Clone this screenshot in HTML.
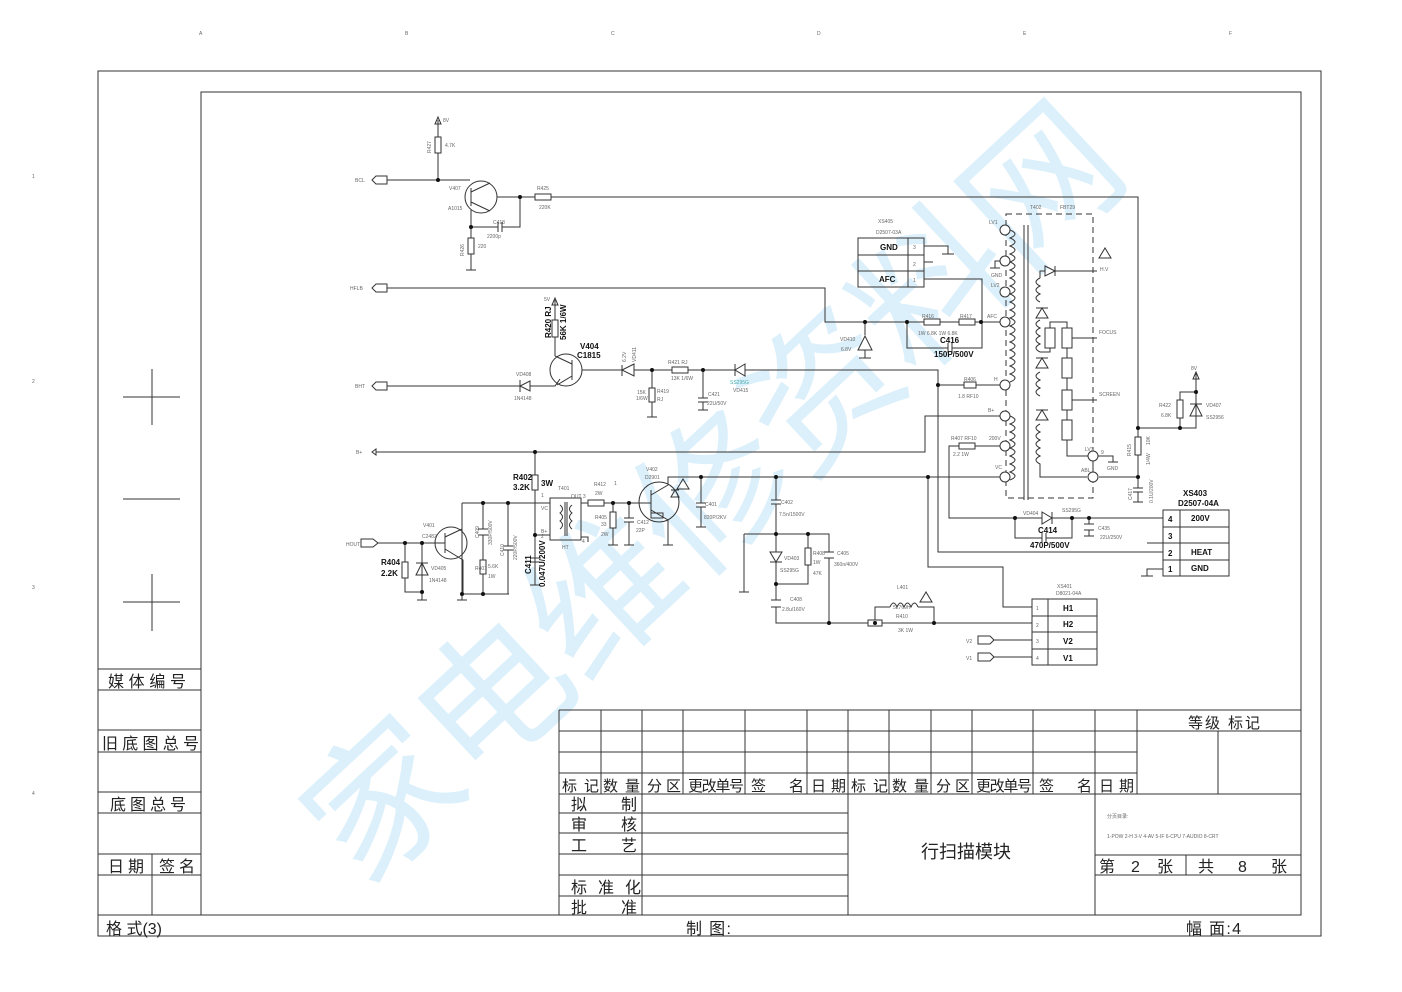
<!DOCTYPE html>
<html><head><meta charset="utf-8">
<style>
html,body{margin:0;padding:0;background:#fff;}
svg{display:block;}
.t{font-family:"Liberation Sans",sans-serif;fill:#666;font-size:5px;}
.b{font-family:"Liberation Sans",sans-serif;fill:#111;font-size:8px;font-weight:bold;}
.c{font-family:"Liberation Sans","Noto Sans CJK SC",sans-serif;fill:#222;font-size:16px;}
</style></head><body>
<svg width="1402" height="992" viewBox="0 0 1402 992" xmlns="http://www.w3.org/2000/svg">
<rect width="1402" height="992" fill="#fff"/>
<text x="715" y="545" text-anchor="middle" transform="rotate(-43 715 495)" font-family="Noto Sans CJK SC,sans-serif" font-size="150" fill="#dcf0fb">家电维修资料网</text>

<g fill="none" stroke="#333" stroke-width="1">
<rect x="98" y="71" width="1223" height="865"/>
<rect x="201" y="92" width="1100" height="823"/>
<line x1="152" y1="369" x2="152" y2="425"/><line x1="123" y1="397" x2="180" y2="397"/>
<line x1="123" y1="499" x2="180" y2="499"/>
<line x1="152" y1="574" x2="152" y2="631"/><line x1="123" y1="602" x2="180" y2="602"/>
<line x1="98" y1="669" x2="201" y2="669"/><line x1="98" y1="690" x2="201" y2="690"/>
<line x1="98" y1="730" x2="201" y2="730"/><line x1="98" y1="752" x2="201" y2="752"/>
<line x1="98" y1="792" x2="201" y2="792"/><line x1="98" y1="813" x2="201" y2="813"/>
<line x1="98" y1="854" x2="201" y2="854"/><line x1="98" y1="875" x2="201" y2="875"/>
<line x1="152" y1="854" x2="152" y2="915"/><line x1="98" y1="915" x2="201" y2="915"/>
<line x1="559" y1="710" x2="1301" y2="710"/>
<line x1="559" y1="710" x2="559" y2="915"/>
<line x1="559" y1="731" x2="1137" y2="731"/><line x1="559" y1="752" x2="1137" y2="752"/>
<line x1="559" y1="773" x2="1137" y2="773"/><line x1="559" y1="794" x2="1301" y2="794"/>
<line x1="1137" y1="731" x2="1301" y2="731"/>
<line x1="601" y1="710" x2="601" y2="794"/><line x1="642" y1="710" x2="642" y2="915"/>
<line x1="683" y1="710" x2="683" y2="794"/><line x1="745" y1="710" x2="745" y2="794"/>
<line x1="807" y1="710" x2="807" y2="794"/><line x1="848" y1="710" x2="848" y2="915"/>
<line x1="889" y1="710" x2="889" y2="794"/><line x1="931" y1="710" x2="931" y2="794"/>
<line x1="972" y1="710" x2="972" y2="794"/><line x1="1033" y1="710" x2="1033" y2="794"/>
<line x1="1095" y1="710" x2="1095" y2="915"/><line x1="1137" y1="710" x2="1137" y2="794"/>
<line x1="1218" y1="731" x2="1218" y2="794"/>
<line x1="559" y1="813" x2="848" y2="813"/><line x1="559" y1="833" x2="848" y2="833"/>
<line x1="559" y1="854" x2="848" y2="854"/><line x1="559" y1="875" x2="848" y2="875"/>
<line x1="559" y1="896" x2="848" y2="896"/>
<line x1="1095" y1="855" x2="1301" y2="855"/><line x1="1095" y1="875" x2="1301" y2="875"/>
<line x1="1186" y1="855" x2="1186" y2="875"/>
</g>
<g class="c">
<text x="108" y="687" textLength="78">媒 体 编 号</text>
<text x="102" y="749" textLength="97">旧 底 图 总 号</text>
<text x="110" y="810" textLength="76">底 图 总 号</text>
<text x="108" y="872" textLength="36">日 期</text><text x="159" y="872" textLength="36">签 名</text>
<text x="106" y="934">格 式(3)</text>
<g style="font-size:15px">
<text x="562" y="791" textLength="37">标 记</text><text x="603" y="791" textLength="37">数 量</text><text x="647" y="791" textLength="34">分 区</text><text x="688" y="791" textLength="56">更改单号</text><text x="751" y="791" textLength="53">签    名</text><text x="811" y="791" textLength="35">日 期</text>
<text x="851" y="791" textLength="37">标 记</text><text x="892" y="791" textLength="37">数 量</text><text x="936" y="791" textLength="34">分 区</text><text x="976" y="791" textLength="56">更改单号</text><text x="1039" y="791" textLength="53">签    名</text><text x="1099" y="791" textLength="35">日 期</text>
<text x="1188" y="728" textLength="72">等级  标记</text>
</g>
<text x="571" y="810">拟</text><text x="621" y="810">制</text>
<text x="571" y="830">审</text><text x="621" y="830">核</text>
<text x="571" y="851">工</text><text x="621" y="851">艺</text>
<text x="571" y="893" textLength="70">标  准  化</text>
<text x="571" y="913">批</text><text x="621" y="913">准</text>
<text x="921" y="858" style="font-size:18px">行扫描模块</text>
<text x="1099" y="872">第</text><text x="1131" y="872">2</text><text x="1157" y="872">张</text><text x="1198" y="872">共</text><text x="1238" y="872">8</text><text x="1271" y="872">张</text>
<text x="686" y="934" textLength="45">制 图:</text>
<text x="1186" y="934" textLength="55">幅 面:4</text>
</g>
<text class="t" x="1107" y="818">分页目录:</text>
<text class="t" x="1107" y="838">1-POW  2-H  3-V  4-AV  5-IF  6-CPU  7-AUDIO  8-CRT</text>
<g class="t">
<text x="199" y="35">A</text><text x="405" y="35">B</text><text x="611" y="35">C</text><text x="817" y="35">D</text><text x="1023" y="35">E</text><text x="1229" y="35">F</text>
<text x="32" y="178">1</text><text x="32" y="383">2</text><text x="32" y="589">3</text><text x="32" y="795">4</text>
</g>

<g fill="none" stroke="#333" stroke-width="1">
<path d="M438 120 V180 M387 180 H470 M497 197 H535 M551 197 H1138 V437 M471 210 V238 M471 254 V270 M466 270 H476 M471 227 H498 M502 227 H520 V197"/>
<line x1="498" y1="222" x2="498" y2="232"/><line x1="502" y1="222" x2="502" y2="232"/>
<circle cx="481" cy="197" r="16"/>
<path d="M471 188 V206 M471 192 L490 183 M471 202 L490 211"/>
<path d="M387 288 H825 V322 H924 M940 322 H959 M975 322 H1000 M907 322 V348 H948 M952 348 H982 V279 H924 M865 322 V335 M865 350 V358 M859 358 H871"/>
<line x1="948" y1="343" x2="948" y2="353"/><line x1="952" y1="343" x2="952" y2="353"/>
<path d="M858 350 H872 L865 336 Z"/>
<rect x="858" y="238" width="66" height="49"/><line x1="908" y1="238" x2="908" y2="287"/>
<line x1="858" y1="255" x2="924" y2="255"/><line x1="858" y1="271" x2="924" y2="271"/>
<path d="M924 246 H948 V254 M942 254 H954 M924 262 H933"/>
<path d="M555 300 V320 M555 337 V356 M387 386 H520 M530 386 H555 L560 379 M582 370 H622 M634 370 H672 M688 370 H735 M745 370 H938 V552 H1163 M938 385 H964 M976 385 H1000"/>
<circle cx="566" cy="370" r="16"/>
<path d="M572 360 V380 M572 364 L555 356 M572 376 L557 385"/>
<path d="M520 380 V392 M530 381 L520 386 L530 391 Z"/>
<path d="M622 365 V376 M634 364 L622 370 L634 376 Z" />
<path d="M735 364 V376 M745 364 L735 370 L745 376 Z"/>
<path d="M652 370 V388 M652 402 V417 M647 417 H657 M703 370 V398 M703 402 V410 M698 410 H708"/>
<line x1="698" y1="398" x2="708" y2="398"/><line x1="698" y1="402" x2="708" y2="402"/>
<path d="M376 452 H925 V416 H1000 M535 452 V475 M535 490 V585 M530 585 H540"/>
<line x1="530" y1="558" x2="540" y2="558"/><line x1="530" y1="562" x2="540" y2="562"/>
<rect x="550" y="498" width="31" height="42"/>
<path d="M462 503 H550 M462 503 V594 H509 M483 503 V529 M483 535 V560 M483 574 V594 M508 503 V546 M508 550 V594 M457 600 H467 M462 594 V600 M535 535 H550 M581 503 H588 M604 503 H642 M613 503 V512 M613 528 V545 M608 545 H618 M629 503 V518 M629 522 V545 M624 545 H634 M581 537 H588 V542"/>
<path d="M560 505 q5 4 0 8 q5 4 0 8 q5 4 0 8 M572 505 q-5 4 0 8 q-5 4 0 8 q-5 4 0 8"/>
<line x1="565" y1="502" x2="565" y2="536"/><line x1="567" y1="502" x2="567" y2="536"/>
<line x1="478" y1="529" x2="488" y2="529"/><line x1="478" y1="535" x2="488" y2="535"/>
<line x1="503" y1="546" x2="513" y2="546"/><line x1="503" y1="550" x2="513" y2="550"/>
<line x1="624" y1="518" x2="634" y2="518"/><line x1="624" y1="522" x2="634" y2="522"/>
<circle cx="451" cy="543" r="16"/>
<path d="M445 533 V553 M445 537 L462 529 V503 M445 549 L463 560 V594 M378 543 H445 M405 543 V562 M405 578 V592 H422 V543 M422 592 V600 M417 600 H427"/>
<path d="M416 575 H428 L422 563 Z M416 563 H428"/>
<circle cx="659" cy="502" r="20"/>
<path d="M651 490 V514 M651 495 L668 485 V477 H1000 M651 510 L668 520 V545 M663 545 H673 M642 503 H651"/>
<rect x="651" y="513" width="12" height="5"/>
<path d="M671 497 H679 L675 490 Z M671 490 H679"/>
<path d="M701 477 V503 M701 507 V527 M696 527 H706 M776 477 V500 M776 504 V552 M776 562 V600 M776 607 V623 H868 M882 623 H1032 M744 534 H829 V552 M829 558 V623 M744 534 V592 M739 592 H749 M808 534 V548 M808 565 V584 H776 M875 623 V607 H890 M918 607 H934 V623"/>
<line x1="696" y1="503" x2="706" y2="503"/><line x1="696" y1="507" x2="706" y2="507"/>
<line x1="771" y1="500" x2="781" y2="500"/><line x1="771" y1="504" x2="781" y2="504"/>
<line x1="824" y1="552" x2="834" y2="552"/><line x1="824" y1="558" x2="834" y2="558"/>
<line x1="771" y1="600" x2="781" y2="600"/><line x1="771" y1="607" x2="781" y2="607"/>
<path d="M770 552 H782 L776 562 Z M770 562 H782"/>
<path d="M890 607 q3.5 -8 7 0 q3.5 -8 7 0 q3.5 -8 7 0 q3.5 -8 7 0"/>
<path d="M993 640 H1032 M993 657 H1032 M928 477 V567 H1003 V607 H1032"/>
<path d="M978 636 H990 L994 640 L990 644 H978 Z M978 653 H990 L994 657 L990 661 H978 Z"/>
<rect x="1032" y="599" width="65" height="66"/><line x1="1048" y1="599" x2="1048" y2="665"/>
<line x1="1032" y1="616" x2="1097" y2="616"/><line x1="1032" y1="632" x2="1097" y2="632"/><line x1="1032" y1="649" x2="1097" y2="649"/>
<rect x="1006" y="214" width="87" height="284" stroke-dasharray="6 4"/>
<line x1="1024" y1="225" x2="1024" y2="500"/><line x1="1028" y1="225" x2="1028" y2="500"/>
<path d="M1010 230 q10 4 0 8 q10 4 0 8 q10 4 0 8 q10 4 0 8 q10 4 0 8 q10 4 0 8 q10 4 0 8 q10 4 0 8 q10 4 0 8 q10 4 0 8 q10 4 0 8 q10 4 0 8 q10 4 0 8 q10 4 0 8 q10 4 0 8 q10 4 0 8 q10 4 0 8 q10 4 0 8 q10 4 0 8"/>
<path d="M1010 416 q10 4 0 8 q10 4 0 8 q10 4 0 8 q10 4 0 8 q10 4 0 8 q10 4 0 8 q10 4 0 8 q10 4 0 8"/>
<path d="M1040 278 q-8 4 0 8 q-8 4 0 8 q-8 4 0 8 M1040 320 q-8 4 0 8 q-8 4 0 8 q-8 4 0 8 q-8 4 0 8 M1040 372 q-8 4 0 8 q-8 4 0 8 q-8 4 0 8 M1040 424 q-8 4 0 8 q-8 4 0 8 q-8 4 0 8 q-8 4 0 8 q-8 4 0 8 V477 H1087"/>
<path d="M1040 278 V271 H1045 M1055 271 H1097 M1045 266 L1055 271 L1045 276 Z M1055 266 V276"/>
<path d="M1036 318 H1048 L1042 308 Z M1036 308 H1048 M1036 368 H1048 L1042 358 Z M1036 358 H1048 M1036 420 H1048 L1042 410 Z M1036 410 H1048"/>
<rect x="1045" y="328" width="10" height="20"/><rect x="1062" y="328" width="10" height="20"/>
<rect x="1062" y="358" width="10" height="20"/><rect x="1062" y="390" width="10" height="20"/><rect x="1062" y="420" width="10" height="20"/>
<path d="M1050 328 V322 H1067 V328 M1050 348 V352 H1040 M1067 348 V358 M1067 378 V390 M1067 410 V420 M1067 440 V456 H1088 M1098 456 H1113 V462 M1108 462 H1118 M1072 338 H1097 M1072 400 H1097 M1093 461 V472 M1099 477 H1138 V455 M1138 477 V488 M1138 492 V502 M1133 502 H1143"/>
<line x1="1133" y1="488" x2="1143" y2="488"/><line x1="1133" y1="492" x2="1143" y2="492"/>
<path d="M1005 261 H995 V268 M990 268 H1000"/>
<g fill="#fff"><circle cx="1005" cy="230" r="5"/><circle cx="1005" cy="261" r="5"/><circle cx="1005" cy="292" r="5"/><circle cx="1005" cy="322" r="5"/><circle cx="1005" cy="385" r="5"/><circle cx="1005" cy="416" r="5"/><circle cx="1005" cy="446" r="5"/><circle cx="1005" cy="477" r="5"/><circle cx="1093" cy="456" r="5"/><circle cx="1093" cy="477" r="5"/></g>
<path d="M1138 428 H1196 V372 M1180 428 V418 M1180 400 V392 H1196 M1190 416 H1202 L1196 404 Z M1190 404 H1202"/>
<path d="M1000 446 H975 M959 446 H949 V518 H1042 M1052 518 H1163 M1015 518 V538 H1042 M1046 538 H1072 V518 M1089 518 V524 M1089 530 V536 M1084 536 H1094 M1147 543 H1163 M1147 576 V569 H1163 M1141 576 H1153"/>
<line x1="1042" y1="533" x2="1042" y2="543"/><line x1="1046" y1="533" x2="1046" y2="543"/>
<line x1="1084" y1="524" x2="1094" y2="524"/><line x1="1084" y1="530" x2="1094" y2="530"/>
<path d="M1042 512 L1052 518 L1042 524 Z M1052 512 V524"/>
<rect x="1163" y="510" width="66" height="66"/><line x1="1180" y1="510" x2="1180" y2="576"/>
<line x1="1163" y1="527" x2="1229" y2="527"/><line x1="1163" y1="543" x2="1229" y2="543"/><line x1="1163" y1="560" x2="1229" y2="560"/>
<path d="M372 180 L376 176 H387 V184 H376 Z M372 288 L376 284 H387 V292 H376 Z M372 386 L376 382 H387 V390 H376 Z M361 543 L361 539 H373 L378 543 L373 547 H361 Z M372 452 L376 449 V455 Z"/>
<path d="M435 124 L438 117 L441 124 Z M552 305 L555 298 L558 305 Z M1193 379 L1196 372 L1199 379 Z"/>
<path d="M677 489 L683 479 L689 489 Z M1099 258 L1105 248 L1111 258 Z M920 602 L926 592 L932 602 Z"/>
</g>
<g fill="#fff" stroke="#333" stroke-width="1">
<rect x="435" y="137" width="6" height="16"/><rect x="535" y="194" width="16" height="6"/><rect x="468" y="238" width="6" height="16"/>
<rect x="924" y="319" width="16" height="6"/><rect x="959" y="319" width="16" height="6"/>
<rect x="552" y="320" width="6" height="17"/><rect x="672" y="367" width="16" height="6"/><rect x="649" y="388" width="6" height="14"/>
<rect x="964" y="382" width="12" height="6"/><rect x="959" y="443" width="16" height="6"/>
<rect x="532" y="475" width="6" height="15"/><rect x="588" y="500" width="16" height="6"/><rect x="610" y="512" width="6" height="16"/>
<rect x="480" y="560" width="6" height="14"/><rect x="402" y="562" width="6" height="16"/>
<rect x="805" y="548" width="6" height="17"/><rect x="868" y="620" width="14" height="6"/>
<rect x="1135" y="437" width="6" height="18"/><rect x="1177" y="400" width="6" height="18"/>
</g>
<g fill="#111">
<circle cx="438" cy="180" r="2"/><circle cx="520" cy="197" r="2"/><circle cx="471" cy="227" r="2"/>
<circle cx="865" cy="322" r="2"/><circle cx="907" cy="322" r="2"/><circle cx="981" cy="322" r="2"/>
<circle cx="652" cy="370" r="2"/><circle cx="703" cy="370" r="2"/><circle cx="938" cy="385" r="2"/>
<circle cx="535" cy="452" r="2"/><circle cx="535" cy="535" r="2"/><circle cx="483" cy="503" r="2"/><circle cx="508" cy="503" r="2"/>
<circle cx="462" cy="594" r="2"/><circle cx="483" cy="594" r="2"/><circle cx="405" cy="543" r="2"/><circle cx="422" cy="543" r="2"/><circle cx="422" cy="592" r="2"/>
<circle cx="613" cy="503" r="2"/><circle cx="629" cy="503" r="2"/>
<circle cx="701" cy="477" r="2"/><circle cx="776" cy="477" r="2"/><circle cx="928" cy="477" r="2"/>
<circle cx="776" cy="534" r="2"/><circle cx="808" cy="534" r="2"/><circle cx="776" cy="584" r="2"/>
<circle cx="829" cy="623" r="2"/><circle cx="875" cy="623" r="2"/><circle cx="934" cy="623" r="2"/>
<circle cx="1015" cy="518" r="2"/><circle cx="1072" cy="518" r="2"/><circle cx="1089" cy="518" r="2"/>
<circle cx="1138" cy="428" r="2"/><circle cx="1180" cy="428" r="2"/><circle cx="1196" cy="392" r="2"/><circle cx="1138" cy="477" r="2"/>
</g>
<g class="t">
<text x="443" y="122">8V</text><text x="431" y="153" transform="rotate(-90 431 153)">R427</text><text x="445" y="147">4.7K</text>
<text x="355" y="182">BCL</text><text x="449" y="190">V407</text><text x="448" y="210">A1015</text>
<text x="537" y="190">R425</text><text x="539" y="209">220K</text><text x="493" y="224">C418</text><text x="487" y="238">2200p</text>
<text x="464" y="256" transform="rotate(-90 464 256)">R426</text><text x="478" y="248">220</text>
<text x="350" y="290">HFLB</text><text x="355" y="388">BHT</text><text x="356" y="454">B+</text><text x="346" y="546">HOUT</text>
<text x="544" y="301">5V</text><text x="516" y="376">VD408</text><text x="514" y="400">1N4148</text>
<text x="626" y="362" transform="rotate(-90 626 362)">6.2V</text><text x="636" y="362" transform="rotate(-90 636 362)">VD411</text>
<text x="668" y="364">R421  RJ</text><text x="671" y="380">13K  1/6W</text><text x="637" y="394">15K</text><text x="636" y="400">1/6W</text><text x="657" y="393">R419</text><text x="657" y="401">RJ</text>
<text x="708" y="396">C421</text><text x="707" y="405">22U/50V</text><text x="730" y="384" fill="#4aa">SS295G</text><text x="733" y="392">VD415</text>
<text x="878" y="223">XS405</text><text x="876" y="234">D2507-03A</text>
<text x="913" y="249">3</text><text x="913" y="266">2</text><text x="913" y="282">1</text>
<text x="840" y="341">VD410</text><text x="841" y="351">6.8V</text>
<text x="922" y="318">R416</text><text x="960" y="318">R417</text><text x="918" y="335">1W   6.8K   1W   6.8K</text>
<text x="987" y="318">AFC</text><text x="989" y="224">LV1</text><text x="991" y="277">GND</text><text x="991" y="287">LV2</text>
<text x="964" y="381">R406</text><text x="958" y="398">1.8  RF10</text><text x="994" y="381">H</text><text x="988" y="412">B+</text>
<text x="951" y="440">R407  RF10</text><text x="953" y="456">2.2   1W</text><text x="989" y="440">200V</text><text x="995" y="469">VC</text>
<text x="1030" y="209">T402</text><text x="1060" y="209">FBT29</text><text x="1100" y="271">H.V</text>
<text x="1099" y="334">FOCUS</text><text x="1099" y="396">SCREEN</text>
<text x="1085" y="451">LV3</text><text x="1101" y="454">9</text><text x="1107" y="470">GND</text><text x="1081" y="472">ABL</text>
<text x="1191" y="370">8V</text><text x="1159" y="407">R422</text><text x="1161" y="417">6.8K</text><text x="1206" y="407">VD407</text><text x="1206" y="419">SS2956</text>
<text x="1131" y="456" transform="rotate(-90 1131 456)">R415</text><text x="1150" y="445" transform="rotate(-90 1150 445)">10K</text><text x="1150" y="465" transform="rotate(-90 1150 465)">1/4W</text>
<text x="1132" y="500" transform="rotate(-90 1132 500)">C417</text><text x="1153" y="503" transform="rotate(-90 1153 503)">0.1U/200V</text>
<text x="1023" y="515">VD404</text><text x="1062" y="512">SS295G</text><text x="1098" y="530">C435</text><text x="1100" y="539">22U/250V</text>
<text x="1057" y="588">XS401</text><text x="1056" y="595">D8021-04A</text>
<text x="1036" y="610">1</text><text x="1036" y="627">2</text><text x="1036" y="643">3</text><text x="1036" y="660">4</text>
<text x="966" y="643">V2</text><text x="966" y="660">V1</text>
<text x="897" y="589">L401</text><text x="893" y="609">5L769H</text><text x="896" y="618">R410</text><text x="898" y="632">3K   1W</text>
<text x="781" y="504">C402</text><text x="779" y="516">7.5n/1500V</text><text x="705" y="506">C401</text><text x="704" y="519">820P/2KV</text>
<text x="784" y="560">VD403</text><text x="780" y="572">SS295G</text><text x="813" y="555">R408</text><text x="813" y="564">1W</text><text x="813" y="575">47K</text>
<text x="837" y="555">C405</text><text x="834" y="566">360n/400V</text><text x="790" y="601">C408</text><text x="782" y="611">2.8u/160V</text>
<text x="646" y="471">V402</text><text x="645" y="479">D2901</text><text x="594" y="486">R412</text><text x="614" y="485">1</text><text x="595" y="495">2W</text>
<text x="595" y="519">R405</text><text x="601" y="526">33</text><text x="601" y="536">2W</text><text x="637" y="524">C412</text><text x="636" y="532">22P</text>
<text x="558" y="490">T401</text><text x="571" y="498">OUT 3</text><text x="541" y="510">VC</text><text x="541" y="533">B+</text><text x="562" y="549">HT</text><text x="541" y="497">1</text><text x="541" y="538">2</text><text x="582" y="543">4</text>
<text x="423" y="527">V401</text><text x="422" y="538">C2482</text><text x="431" y="570">VD405</text><text x="429" y="582">1N4148</text>
<text x="479" y="538" transform="rotate(-90 479 538)">C409</text><text x="492" y="545" transform="rotate(-90 492 545)">330P/500V</text>
<text x="475" y="570">R401</text><text x="488" y="568">5.6K</text><text x="488" y="578">1W</text>
<text x="504" y="556" transform="rotate(-90 504 556)">C410</text><text x="517" y="560" transform="rotate(-90 517 560)">220P/500V</text>
</g>
<g class="b">
<text x="880" y="250">GND</text><text x="879" y="282">AFC</text>
<text x="940" y="343">C416</text><text x="934" y="357">150P/500V</text>
<text x="580" y="349">V404</text><text x="577" y="358">C1815</text>
<text x="551" y="338" transform="rotate(-90 551 338)">R420 RJ</text><text x="566" y="340" transform="rotate(-90 566 340)">56K 1/6W</text>
<text x="513" y="480">R402</text><text x="513" y="490">3.2K</text><text x="541" y="486">3W</text>
<text x="381" y="565">R404</text><text x="381" y="576">2.2K</text>
<text x="531" y="574" transform="rotate(-90 531 574)">C411</text><text x="545" y="587" transform="rotate(-90 545 587)">0.047U/200V</text>
<text x="1038" y="533">C414</text><text x="1030" y="548">470P/500V</text>
<text x="1183" y="496">XS403</text><text x="1178" y="506">D2507-04A</text>
<text x="1168" y="522">4</text><text x="1191" y="521">200V</text><text x="1168" y="539">3</text><text x="1168" y="556">2</text><text x="1191" y="555">HEAT</text><text x="1168" y="572">1</text><text x="1191" y="571">GND</text>
<text x="1063" y="611">H1</text><text x="1063" y="627">H2</text><text x="1063" y="644">V2</text><text x="1063" y="661">V1</text>
</g>
</svg>
</body></html>
